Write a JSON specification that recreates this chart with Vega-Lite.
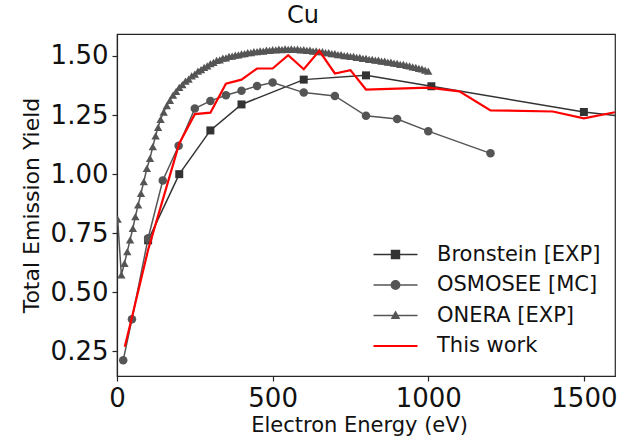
{
  "$schema": "https://vega.github.io/schema/vega-lite/v6.json",
  "width": 498,
  "height": 342,
  "autosize": {"type": "none"},
  "padding": {"left": 117, "top": 34, "right": 15, "bottom": 63},
  "background": "white",
  "title": {
    "text": "Cu",
    "font": "DejaVu Sans",
    "fontSize": 24,
    "fontWeight": "normal",
    "color": "#111111",
    "anchor": "middle",
    "dx": -63,
    "offset": 6
  },
  "config": {
    "view": {"stroke": "#262626", "strokeWidth": 1.2},
    "font": "DejaVu Sans",
    "axis": {
      "labelFont": "DejaVu Sans",
      "labelFontSize": 26,
      "labelColor": "#111111",
      "titleFont": "DejaVu Sans",
      "titleFontSize": 21,
      "titleFontWeight": "normal",
      "titleColor": "#111111",
      "domainColor": "#262626",
      "domainWidth": 1.2,
      "tickColor": "#262626",
      "tickWidth": 1.2,
      "tickSize": 5,
      "grid": false
    }
  },
  "datasets": {
    "yields": [
      {"series": "Bronstein [EXP]", "E": 100, "Y": 0.72},
      {"series": "Bronstein [EXP]", "E": 200, "Y": 1.0},
      {"series": "Bronstein [EXP]", "E": 300, "Y": 1.185},
      {"series": "Bronstein [EXP]", "E": 400, "Y": 1.295},
      {"series": "Bronstein [EXP]", "E": 600, "Y": 1.4},
      {"series": "Bronstein [EXP]", "E": 800, "Y": 1.418},
      {"series": "Bronstein [EXP]", "E": 1010, "Y": 1.372},
      {"series": "Bronstein [EXP]", "E": 1500, "Y": 1.263},
      {"series": "Bronstein [EXP]", "E": 2000, "Y": 1.19},

      {"series": "OSMOSEE [MC]", "E": 20, "Y": 0.213},
      {"series": "OSMOSEE [MC]", "E": 48, "Y": 0.386},
      {"series": "OSMOSEE [MC]", "E": 100, "Y": 0.729},
      {"series": "OSMOSEE [MC]", "E": 147, "Y": 0.973},
      {"series": "OSMOSEE [MC]", "E": 198, "Y": 1.12},
      {"series": "OSMOSEE [MC]", "E": 250, "Y": 1.278},
      {"series": "OSMOSEE [MC]", "E": 300, "Y": 1.31},
      {"series": "OSMOSEE [MC]", "E": 350, "Y": 1.334},
      {"series": "OSMOSEE [MC]", "E": 400, "Y": 1.353},
      {"series": "OSMOSEE [MC]", "E": 450, "Y": 1.373},
      {"series": "OSMOSEE [MC]", "E": 500, "Y": 1.388},
      {"series": "OSMOSEE [MC]", "E": 600, "Y": 1.345},
      {"series": "OSMOSEE [MC]", "E": 700, "Y": 1.331},
      {"series": "OSMOSEE [MC]", "E": 800, "Y": 1.247},
      {"series": "OSMOSEE [MC]", "E": 900, "Y": 1.233},
      {"series": "OSMOSEE [MC]", "E": 1000, "Y": 1.182},
      {"series": "OSMOSEE [MC]", "E": 1200, "Y": 1.088},

      {"series": "ONERA [EXP]", "E": 2, "Y": 0.81},
      {"series": "ONERA [EXP]", "E": 14, "Y": 0.574},
      {"series": "ONERA [EXP]", "E": 24, "Y": 0.623},
      {"series": "ONERA [EXP]", "E": 33, "Y": 0.672},
      {"series": "ONERA [EXP]", "E": 42, "Y": 0.722},
      {"series": "ONERA [EXP]", "E": 51, "Y": 0.771},
      {"series": "ONERA [EXP]", "E": 59, "Y": 0.82},
      {"series": "ONERA [EXP]", "E": 68, "Y": 0.87},
      {"series": "ONERA [EXP]", "E": 77, "Y": 0.919},
      {"series": "ONERA [EXP]", "E": 86, "Y": 0.968},
      {"series": "ONERA [EXP]", "E": 96, "Y": 1.024},
      {"series": "ONERA [EXP]", "E": 106, "Y": 1.067},
      {"series": "ONERA [EXP]", "E": 115, "Y": 1.116},
      {"series": "ONERA [EXP]", "E": 124, "Y": 1.162},
      {"series": "ONERA [EXP]", "E": 132, "Y": 1.198},
      {"series": "ONERA [EXP]", "E": 140, "Y": 1.232},
      {"series": "ONERA [EXP]", "E": 150, "Y": 1.262},
      {"series": "ONERA [EXP]", "E": 160, "Y": 1.29},
      {"series": "ONERA [EXP]", "E": 170, "Y": 1.312},
      {"series": "ONERA [EXP]", "E": 180, "Y": 1.334},
      {"series": "ONERA [EXP]", "E": 190, "Y": 1.35},
      {"series": "ONERA [EXP]", "E": 200, "Y": 1.367},
      {"series": "ONERA [EXP]", "E": 210, "Y": 1.379},
      {"series": "ONERA [EXP]", "E": 220, "Y": 1.394},
      {"series": "ONERA [EXP]", "E": 230, "Y": 1.402},
      {"series": "ONERA [EXP]", "E": 240, "Y": 1.416},
      {"series": "ONERA [EXP]", "E": 250, "Y": 1.423},
      {"series": "ONERA [EXP]", "E": 260, "Y": 1.436},
      {"series": "ONERA [EXP]", "E": 270, "Y": 1.442},
      {"series": "ONERA [EXP]", "E": 280, "Y": 1.452},
      {"series": "ONERA [EXP]", "E": 290, "Y": 1.458},
      {"series": "ONERA [EXP]", "E": 300, "Y": 1.468},
      {"series": "ONERA [EXP]", "E": 310, "Y": 1.473},
      {"series": "ONERA [EXP]", "E": 320, "Y": 1.481},
      {"series": "ONERA [EXP]", "E": 330, "Y": 1.484},
      {"series": "ONERA [EXP]", "E": 340, "Y": 1.491},
      {"series": "ONERA [EXP]", "E": 350, "Y": 1.492},
      {"series": "ONERA [EXP]", "E": 360, "Y": 1.498},
      {"series": "ONERA [EXP]", "E": 370, "Y": 1.499},
      {"series": "ONERA [EXP]", "E": 380, "Y": 1.504},
      {"series": "ONERA [EXP]", "E": 390, "Y": 1.505},
      {"series": "ONERA [EXP]", "E": 400, "Y": 1.509},
      {"series": "ONERA [EXP]", "E": 410, "Y": 1.51},
      {"series": "ONERA [EXP]", "E": 420, "Y": 1.514},
      {"series": "ONERA [EXP]", "E": 430, "Y": 1.514},
      {"series": "ONERA [EXP]", "E": 440, "Y": 1.518},
      {"series": "ONERA [EXP]", "E": 450, "Y": 1.518},
      {"series": "ONERA [EXP]", "E": 460, "Y": 1.522},
      {"series": "ONERA [EXP]", "E": 470, "Y": 1.521},
      {"series": "ONERA [EXP]", "E": 480, "Y": 1.525},
      {"series": "ONERA [EXP]", "E": 490, "Y": 1.524},
      {"series": "ONERA [EXP]", "E": 500, "Y": 1.527},
      {"series": "ONERA [EXP]", "E": 510, "Y": 1.526},
      {"series": "ONERA [EXP]", "E": 520, "Y": 1.529},
      {"series": "ONERA [EXP]", "E": 530, "Y": 1.527},
      {"series": "ONERA [EXP]", "E": 540, "Y": 1.53},
      {"series": "ONERA [EXP]", "E": 550, "Y": 1.528},
      {"series": "ONERA [EXP]", "E": 560, "Y": 1.53},
      {"series": "ONERA [EXP]", "E": 570, "Y": 1.528},
      {"series": "ONERA [EXP]", "E": 580, "Y": 1.529},
      {"series": "ONERA [EXP]", "E": 590, "Y": 1.526},
      {"series": "ONERA [EXP]", "E": 600, "Y": 1.527},
      {"series": "ONERA [EXP]", "E": 610, "Y": 1.524},
      {"series": "ONERA [EXP]", "E": 620, "Y": 1.525},
      {"series": "ONERA [EXP]", "E": 630, "Y": 1.521},
      {"series": "ONERA [EXP]", "E": 640, "Y": 1.522},
      {"series": "ONERA [EXP]", "E": 650, "Y": 1.518},
      {"series": "ONERA [EXP]", "E": 660, "Y": 1.518},
      {"series": "ONERA [EXP]", "E": 670, "Y": 1.514},
      {"series": "ONERA [EXP]", "E": 680, "Y": 1.514},
      {"series": "ONERA [EXP]", "E": 690, "Y": 1.51},
      {"series": "ONERA [EXP]", "E": 700, "Y": 1.51},
      {"series": "ONERA [EXP]", "E": 710, "Y": 1.506},
      {"series": "ONERA [EXP]", "E": 720, "Y": 1.506},
      {"series": "ONERA [EXP]", "E": 730, "Y": 1.502},
      {"series": "ONERA [EXP]", "E": 740, "Y": 1.502},
      {"series": "ONERA [EXP]", "E": 750, "Y": 1.498},
      {"series": "ONERA [EXP]", "E": 760, "Y": 1.498},
      {"series": "ONERA [EXP]", "E": 770, "Y": 1.494},
      {"series": "ONERA [EXP]", "E": 780, "Y": 1.494},
      {"series": "ONERA [EXP]", "E": 790, "Y": 1.49},
      {"series": "ONERA [EXP]", "E": 800, "Y": 1.49},
      {"series": "ONERA [EXP]", "E": 810, "Y": 1.486},
      {"series": "ONERA [EXP]", "E": 820, "Y": 1.486},
      {"series": "ONERA [EXP]", "E": 830, "Y": 1.482},
      {"series": "ONERA [EXP]", "E": 840, "Y": 1.482},
      {"series": "ONERA [EXP]", "E": 850, "Y": 1.478},
      {"series": "ONERA [EXP]", "E": 860, "Y": 1.478},
      {"series": "ONERA [EXP]", "E": 870, "Y": 1.474},
      {"series": "ONERA [EXP]", "E": 880, "Y": 1.474},
      {"series": "ONERA [EXP]", "E": 890, "Y": 1.47},
      {"series": "ONERA [EXP]", "E": 900, "Y": 1.469},
      {"series": "ONERA [EXP]", "E": 910, "Y": 1.465},
      {"series": "ONERA [EXP]", "E": 920, "Y": 1.464},
      {"series": "ONERA [EXP]", "E": 930, "Y": 1.46},
      {"series": "ONERA [EXP]", "E": 940, "Y": 1.458},
      {"series": "ONERA [EXP]", "E": 950, "Y": 1.454},
      {"series": "ONERA [EXP]", "E": 960, "Y": 1.452},
      {"series": "ONERA [EXP]", "E": 970, "Y": 1.448},
      {"series": "ONERA [EXP]", "E": 980, "Y": 1.445},
      {"series": "ONERA [EXP]", "E": 990, "Y": 1.44},
      {"series": "ONERA [EXP]", "E": 1000, "Y": 1.436},

      {"series": "This work", "E": 25, "Y": 0.27},
      {"series": "This work", "E": 50, "Y": 0.405},
      {"series": "This work", "E": 100, "Y": 0.68},
      {"series": "This work", "E": 150, "Y": 0.905},
      {"series": "This work", "E": 200, "Y": 1.13},
      {"series": "This work", "E": 250, "Y": 1.254},
      {"series": "This work", "E": 300, "Y": 1.26},
      {"series": "This work", "E": 350, "Y": 1.383},
      {"series": "This work", "E": 400, "Y": 1.4},
      {"series": "This work", "E": 450, "Y": 1.447},
      {"series": "This work", "E": 500, "Y": 1.447},
      {"series": "This work", "E": 550, "Y": 1.503},
      {"series": "This work", "E": 600, "Y": 1.444},
      {"series": "This work", "E": 650, "Y": 1.522},
      {"series": "This work", "E": 700, "Y": 1.426},
      {"series": "This work", "E": 750, "Y": 1.44},
      {"series": "This work", "E": 800, "Y": 1.358},
      {"series": "This work", "E": 1000, "Y": 1.366},
      {"series": "This work", "E": 1100, "Y": 1.35},
      {"series": "This work", "E": 1200, "Y": 1.27},
      {"series": "This work", "E": 1400, "Y": 1.265},
      {"series": "This work", "E": 1500, "Y": 1.236},
      {"series": "This work", "E": 1600, "Y": 1.262}
    ]
  },
  "data": {"name": "yields"},
  "encoding": {
    "x": {
      "field": "E",
      "type": "quantitative",
      "scale": {"domain": [0, 1600], "nice": false, "zero": false},
      "axis": {
        "values": [0, 500, 1000, 1500],
        "format": "d",
        "title": "Electron Energy (eV)",
        "labelPadding": 4,
        "titlePadding": 3,
        "titleX": 242,
        "labelFlush": false
      }
    },
    "y": {
      "field": "Y",
      "type": "quantitative",
      "scale": {"domain": [0.146, 1.593], "nice": false, "zero": false},
      "axis": {
        "values": [0.25, 0.5, 0.75, 1.0, 1.25, 1.5],
        "format": ".2f",
        "title": "Total Emission Yield",
        "titleFontSize": 22,
        "labelPadding": 4,
        "titlePadding": 7,
        "labelFlush": false
      }
    },
    "color": {
      "field": "series",
      "type": "nominal",
      "scale": {
        "domain": ["Bronstein [EXP]", "OSMOSEE [MC]", "ONERA [EXP]", "This work"],
        "range": ["#333333", "#555555", "#555555", "#ff0000"]
      },
      "legend": {
        "title": null,
        "orient": "none",
        "legendX": 268,
        "legendY": 210,
        "padding": 0,
        "symbolSize": 1936,
        "symbolOffset": 0,
        "symbolStrokeWidth": 1.5,
        "labelOffset": 31,
        "labelLimit": 300,
        "labelFont": "DejaVu Sans",
        "labelFontSize": 21,
        "labelColor": "#111111",
        "rowPadding": 8.5,
        "encode": {
          "symbols": {
            "update": {
              "shape": {"signal": "datum.value === 'Bronstein [EXP]' ? 'M-1,0H1M-0.18,-0.18H0.18V0.18H-0.18Z' : datum.value === 'OSMOSEE [MC]' ? 'M-1,0H1M-0.19,0A0.19,0.19,0,1,0,0.19,0A0.19,0.19,0,1,0,-0.19,0Z' : datum.value === 'ONERA [EXP]' ? 'M-1,0H1M0,-0.16L0.16,0.12H-0.16Z' : 'M-1,0H1'"},
              "fill": {"signal": "scale('color', datum.value)"},
              "stroke": {"signal": "scale('color', datum.value)"},
              "strokeWidth": {"signal": "datum.value === 'This work' ? 2.2 : 1.5"},
              "opacity": {"value": 1}
            }
          }
        }
      }
    }
  },
  "layer": [
    {
      "transform": [{"filter": "datum.series === 'Bronstein [EXP]'"}],
      "mark": {"type": "line", "strokeWidth": 1.5, "clip": true}
    },
    {
      "transform": [{"filter": "datum.series === 'Bronstein [EXP]'"}],
      "mark": {"type": "point", "shape": "square", "filled": true, "opacity": 1, "size": 64, "clip": true}
    },
    {
      "transform": [{"filter": "datum.series === 'OSMOSEE [MC]'"}],
      "mark": {"type": "line", "strokeWidth": 1.5, "clip": true}
    },
    {
      "transform": [{"filter": "datum.series === 'OSMOSEE [MC]'"}],
      "mark": {"type": "point", "shape": "circle", "filled": true, "opacity": 1, "size": 72, "clip": true}
    },
    {
      "transform": [{"filter": "datum.series === 'ONERA [EXP]'"}],
      "mark": {"type": "line", "strokeWidth": 1.5, "clip": true}
    },
    {
      "transform": [{"filter": "datum.series === 'ONERA [EXP]'"}],
      "mark": {"type": "point", "shape": "triangle-up", "filled": true, "opacity": 1, "size": 70, "clip": true}
    },
    {
      "transform": [{"filter": "datum.series === 'This work'"}],
      "mark": {"type": "line", "strokeWidth": 2.2, "clip": true}
    }
  ]
}
